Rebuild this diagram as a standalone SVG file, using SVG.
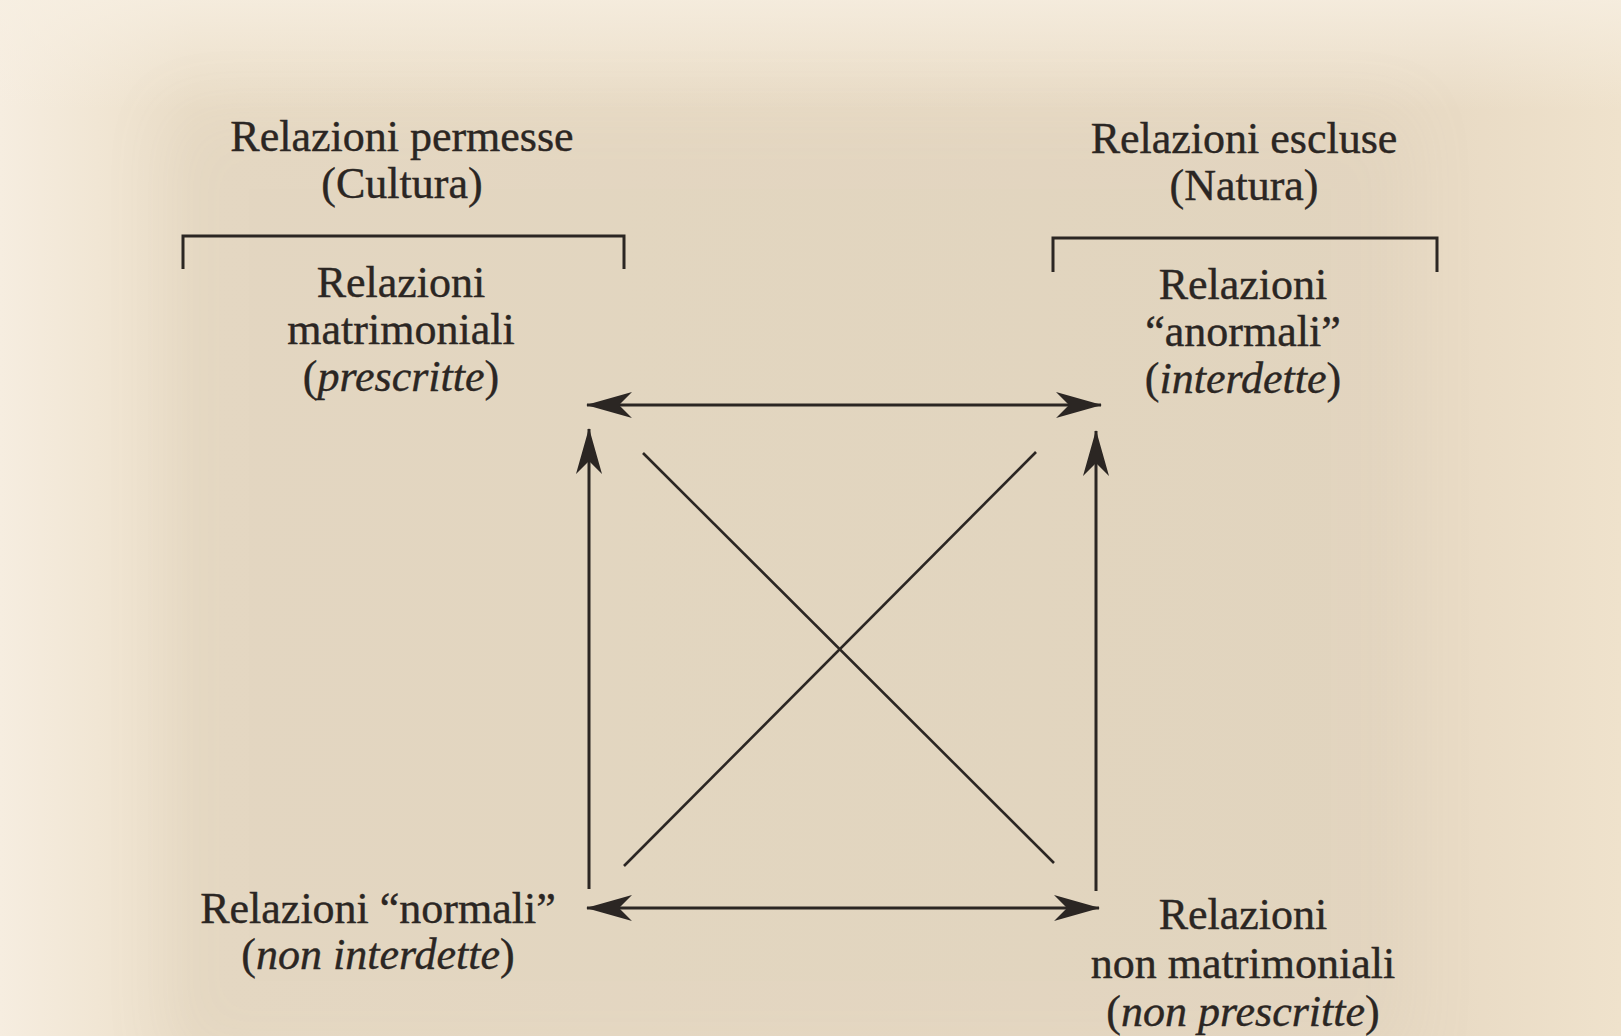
<svg xmlns="http://www.w3.org/2000/svg" width="1621" height="1036" viewBox="0 0 1621 1036">
  <defs>
    <linearGradient id="bg" x1="0" y1="0" x2="1" y2="0">
      <stop offset="0" stop-color="#f6ede0"/>
      <stop offset="0.06" stop-color="#f1e6d4"/>
      <stop offset="0.12" stop-color="#ebdec8"/>
      <stop offset="0.9" stop-color="#e9dbc5"/>
      <stop offset="1" stop-color="#efe2cc"/>
    </linearGradient>
    <linearGradient id="top" x1="0" y1="0" x2="0" y2="1">
      <stop offset="0" stop-color="#f7efe2" stop-opacity="0.8"/>
      <stop offset="1" stop-color="#f7efe2" stop-opacity="0"/>
    </linearGradient>
    <filter id="soft" x="-10%" y="-10%" width="120%" height="120%">
      <feGaussianBlur stdDeviation="35"/>
    </filter>
    <marker id="ah" viewBox="0 0 46 26" refX="45" refY="13" markerWidth="46" markerHeight="26" markerUnits="userSpaceOnUse" orient="auto-start-reverse">
      <path d="M0,0 L46,13 L0,26 L13,13 Z" fill="#2b2623"/>
    </marker>
    <style>
      text { font-family: "Liberation Serif", "Times New Roman", serif; font-size: 44px; fill: #2b2623; stroke: #2b2623; stroke-width: 0.4; text-anchor: middle; }
      .it { font-style: italic; }
      .arrow { stroke: #2b2623; stroke-width: 3; fill: none; }
      .diag { stroke: #2b2623; stroke-width: 2.6; fill: none; }
      .bracket { stroke: #2b2623; stroke-width: 3; fill: none; }
    </style>
  </defs>

  <rect x="0" y="0" width="1621" height="1036" fill="url(#bg)"/>
  <rect x="0" y="0" width="1621" height="110" fill="url(#top)"/>
  <rect x="165" y="105" width="1250" height="960" fill="#8a7f72" opacity="0.07" filter="url(#soft)"/>

  <g id="header-left">
    <text x="402" y="151">Relazioni permesse</text>
    <text x="402" y="198">(Cultura)</text>
    <path class="bracket" d="M183,269 V236 H624 V269"/>
  </g>

  <g id="header-right">
    <text x="1244" y="153">Relazioni escluse</text>
    <text x="1244" y="200">(Natura)</text>
    <path class="bracket" d="M1053,272 V238 H1437 V272"/>
  </g>

  <g id="node-top-left">
    <text x="401" y="297">Relazioni</text>
    <text x="401" y="344">matrimoniali</text>
    <text x="401" y="391">(<tspan class="it">prescritte</tspan>)</text>
  </g>

  <g id="node-top-right">
    <text x="1243" y="299">Relazioni</text>
    <text x="1243" y="346">“anormali”</text>
    <text x="1243" y="393">(<tspan class="it">interdette</tspan>)</text>
  </g>

  <g id="node-bottom-left">
    <text x="378" y="923">Relazioni “normali”</text>
    <text x="378" y="969">(<tspan class="it">non interdette</tspan>)</text>
  </g>

  <g id="node-bottom-right">
    <text x="1243" y="929">Relazioni</text>
    <text x="1243" y="978">non matrimoniali</text>
    <text x="1243" y="1026">(<tspan class="it">non prescritte</tspan>)</text>
  </g>

  <g id="connectors">
    <line class="arrow" x1="587" y1="405" x2="1101" y2="405" marker-start="url(#ah)" marker-end="url(#ah)"/>
    <line class="arrow" x1="587" y1="908" x2="1099" y2="908" marker-start="url(#ah)" marker-end="url(#ah)"/>
    <line class="arrow" x1="589" y1="889" x2="589" y2="429" marker-end="url(#ah)"/>
    <line class="arrow" x1="1096" y1="891" x2="1096" y2="431" marker-end="url(#ah)"/>
    <line class="diag" x1="643" y1="453" x2="1054" y2="863"/>
    <line class="diag" x1="1036" y1="452" x2="624" y2="866"/>
  </g>
</svg>
